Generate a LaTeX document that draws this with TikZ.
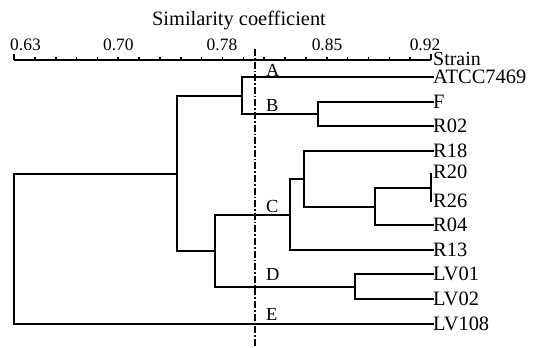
\documentclass[tikz,border=0pt]{standalone}
\usepackage{fontspec}
\setmainfont{Liberation Serif}
\begin{document}
\begin{tikzpicture}[x=1bp,y=-1bp,
  tree/.style={line width=2bp,line cap=rect},
  axisline/.style={line width=1.6bp},
  leaf/.style={anchor=west,inner sep=0pt,font=\fontsize{20.5}{20.5}\selectfont},
  ticklab/.style={anchor=base,inner sep=0pt,font=\fontsize{17.5}{17.5}\selectfont},
  clus/.style={anchor=base west,inner sep=0pt,font=\fontsize{18.5}{18.5}\selectfont},
  cutline/.style={line width=1.4bp,dash pattern=on 7bp off 2bp on 1.6bp off 2bp}]
\useasboundingbox (0,0) rectangle (533,347);

% axis title, scale and tick labels
\node[anchor=base,inner sep=0pt,font=\fontsize{20.5}{20.5}\selectfont] (title) at (239,25.5) {Similarity coefficient};
\coordinate (axL) at (14,60);
\coordinate (axR) at (431,60);
\draw[axisline] (axL) -- (axR);
\foreach \k in {1,...,19} \draw[axisline] ({14+20.85*\k},60) -- ({14+20.85*\k},57);
\draw[axisline] (axL) -- ++(0,-6);
\draw[axisline] (axR) -- ++(0,-6);
\node[ticklab] (t1) at (25.5,50) {0.63};
\node[ticklab] (t2) at (118.4,50) {0.70};
\node[ticklab] (t3) at (222,50) {0.78};
\node[ticklab] (t4) at (327,50) {0.85};
\node[ticklab] (t5) at (425,50) {0.92};
\node[anchor=base west,inner sep=0pt,font=\fontsize{20}{20}\selectfont] (strain) at (433,65.5) {Strain};

% leaves
\foreach \nm/\lab/\yy in {a/ATCC7469/77,f/F/102,r02/R02/126,r18/R18/151,
    r20/R20/171.5,r26/R26/200.5,r04/R04/225,r13/R13/250,
    lv01/LV01/274,lv02/LV02/299,lv108/LV108/324}
  \node[leaf] (\nm) at (433,\yy) {\lab};

% internal joins
\coordinate (r20end) at (431,174);
\coordinate (r26end) at (431,201);
\coordinate (jR) at (431,188);
\coordinate (jB) at (318,114);
\coordinate (jAB) at (242,96);
\coordinate (j1) at (375,207);
\coordinate (j2) at (304,179);
\coordinate (jC) at (290,215);
\coordinate (jD) at (355,287);
\coordinate (jCD) at (215,251);
\coordinate (jL) at (177,174);
\coordinate (root) at (14,174);

\draw[tree] ([xshift=-0.5bp]f.west) -| (jB) |- ([xshift=-0.5bp]r02.west);
\draw[tree] ([xshift=-0.5bp]a.west) -| (jAB) |- (jB);
\draw[tree] (r20end) -- (r26end);
\draw[tree] (jR) -| (j1) |- ([xshift=-0.5bp]r04.west);
\draw[tree] ([xshift=-0.5bp]r18.west) -| (j2) |- (j1);
\draw[tree] (j2) -| (jC) |- ([xshift=-0.5bp]r13.west);
\draw[tree] ([xshift=-0.5bp]lv01.west) -| (jD) |- ([xshift=-0.5bp]lv02.west);
\draw[tree] (jC) -| (jCD) |- (jD);
\draw[tree] (jAB) -| (jL) |- (jCD);
\draw[tree] (jL) -- (root) |- ([xshift=-0.5bp]lv108.west);

% cut-off line and cluster letters
\coordinate (cuttop) at (255,49);
\coordinate (cutbot) at (255,347);
\draw[cutline] (cuttop) -- (cutbot);
\node[clus] (cA) at (266,76) {A};
\node[clus] (cB) at (266,111) {B};
\node[clus] (cC) at (266,212) {C};
\node[clus] (cD) at (266,280) {D};
\node[clus] (cE) at (266,320) {E};
\end{tikzpicture}
\end{document}
